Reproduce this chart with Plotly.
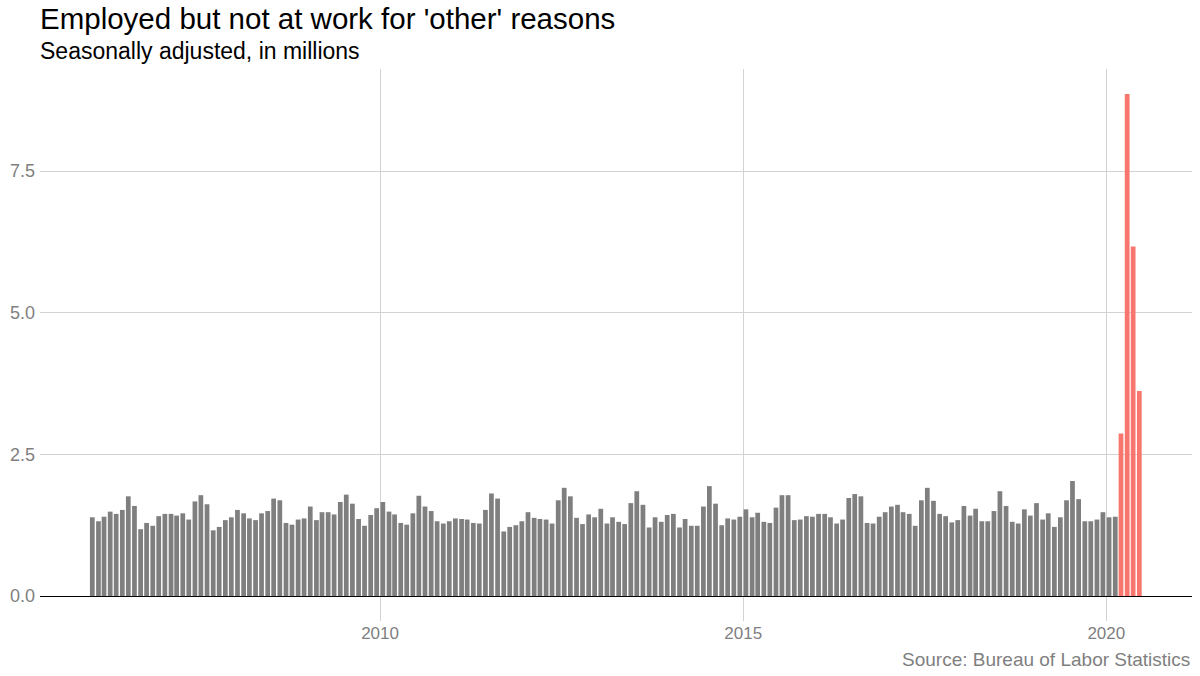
import pandas as pd
import plotly.graph_objects as go

# monthly values, Jan 2006 - Jun 2020 (millions)
values_gray = [
    1.39, 1.32, 1.40, 1.49, 1.45, 1.52, 1.76, 1.59, 1.18, 1.29, 1.24, 1.41,
    1.45, 1.45, 1.42, 1.46, 1.35, 1.67, 1.78, 1.62, 1.16, 1.22, 1.34, 1.39,
    1.52, 1.46, 1.37, 1.34, 1.46, 1.50, 1.72, 1.69, 1.29, 1.26, 1.35, 1.37,
    1.58, 1.34, 1.48, 1.48, 1.44, 1.66, 1.79, 1.63, 1.36, 1.24, 1.43, 1.55,
    1.66, 1.49, 1.44, 1.29, 1.26, 1.46, 1.77, 1.58, 1.50, 1.32, 1.28, 1.32,
    1.37, 1.36, 1.35, 1.29, 1.28, 1.52, 1.81, 1.72, 1.14, 1.22, 1.25, 1.32,
    1.48, 1.38, 1.36, 1.35, 1.28, 1.69, 1.91, 1.76, 1.38, 1.27, 1.44, 1.39,
    1.54, 1.28, 1.39, 1.31, 1.27, 1.64, 1.85, 1.61, 1.21, 1.39, 1.31, 1.43,
    1.45, 1.21, 1.36, 1.24, 1.24, 1.58, 1.94, 1.63, 1.25, 1.37, 1.35, 1.40,
    1.53, 1.39, 1.47, 1.31, 1.29, 1.56, 1.78, 1.78, 1.34, 1.35, 1.41, 1.40,
    1.45, 1.45, 1.39, 1.28, 1.35, 1.73, 1.80, 1.76, 1.29, 1.28, 1.40, 1.48,
    1.58, 1.61, 1.48, 1.45, 1.24, 1.69, 1.91, 1.68, 1.45, 1.41, 1.30, 1.34,
    1.59, 1.42, 1.54, 1.32, 1.32, 1.50, 1.85, 1.59, 1.31, 1.28, 1.53, 1.42,
    1.64, 1.35, 1.46, 1.22, 1.39, 1.69, 2.03, 1.71, 1.32, 1.32, 1.35, 1.48,
    1.39, 1.40,
]
# Mar - Jun 2020
values_red = [2.87, 8.86, 6.17, 3.62]

# bars sit at mid-month
dates = pd.date_range("2006-01-01", periods=len(values_gray) + len(values_red), freq="MS") + pd.Timedelta(days=14)
dates_gray = dates[:len(values_gray)]
dates_red = dates[len(values_gray):]

y_ticks = [0, 2.5, 5.0, 7.5]
y_labels = ["0.0", "2.5", "5.0", "7.5"]
x_ticks = ["2010-01-01", "2015-01-01", "2020-01-01"]
x_labels = ["2010", "2015", "2020"]

fig = go.Figure()
fig.add_trace(go.Bar(x=dates_gray, y=values_gray, marker_color="#7f7f7f",
                     marker_line_width=0, showlegend=False))
fig.add_trace(go.Bar(x=dates_red, y=values_red, marker_color="#F8766D",
                     marker_line_width=0, showlegend=False))

fig.update_layout(
    width=1200, height=676,
    plot_bgcolor="white", paper_bgcolor="white",
    bargap=0.15,
    margin=dict(l=40, r=8, t=69, b=55, autoexpand=False),
    font=dict(family="Liberation Sans, Arial", color="#000000"),
    xaxis=dict(
        type="date",
        range=["2005-04-27", "2021-03-07"],
        tickvals=x_ticks, ticktext=x_labels,
        tickfont=dict(size=17, color="#7f7f7f"),
        showgrid=True, gridcolor="#d3d3d3", gridwidth=1,
        ticks="", showline=False, zeroline=False, automargin=False,
    ),
    yaxis=dict(
        range=[-0.44, 9.3],
        tickvals=y_ticks, ticktext=y_labels,
        tickfont=dict(size=18, color="#7f7f7f"),
        showgrid=True, gridcolor="#d3d3d3", gridwidth=1,
        ticks="", showline=False, automargin=False,
        ticklabelstandoff=4,
        zeroline=True, zerolinecolor="#000000", zerolinewidth=1.2,
    ),
    annotations=[
        dict(text="Employed but not at work for 'other' reasons",
             xref="paper", yref="paper", x=-0.0017, y=1.0,
             xanchor="left", yanchor="bottom", yshift=32,
             showarrow=False, font=dict(size=29.5, color="#000000")),
        dict(text="Seasonally adjusted, in millions",
             xref="paper", yref="paper", x=-0.0017, y=1.0,
             xanchor="left", yanchor="bottom", yshift=3,
             showarrow=False, font=dict(size=23, color="#000000")),
        dict(text="Source: Bureau of Labor Statistics",
             xref="paper", yref="paper", x=1.0, y=0.0,
             xanchor="right", yanchor="top", yshift=-26,
             showarrow=False, font=dict(size=19, color="#7f7f7f")),
    ],
)

# drop the browser's default 8px body margin so the figure sits at the corner
fig.write_html("out.html", config={"displayModeBar": False},
               post_script="document.body.style.margin = '0';")
